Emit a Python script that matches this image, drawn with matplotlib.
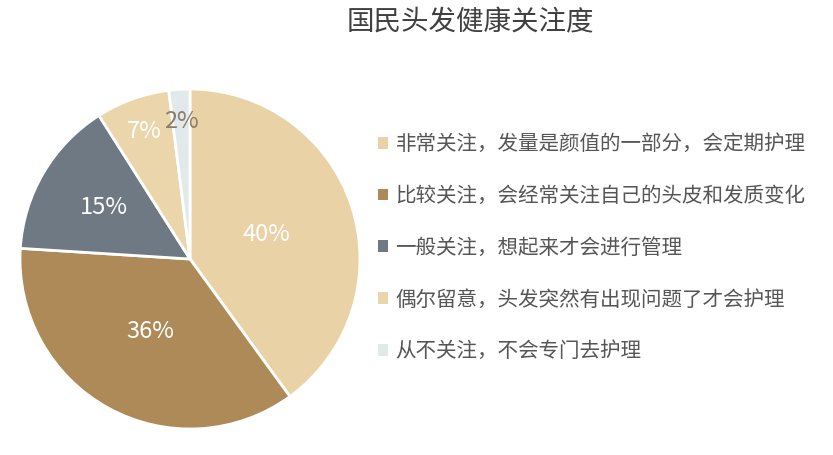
import numpy as np
import matplotlib.pyplot as plt
from matplotlib.patches import Patch

plt.rcParams['font.family'] = ['Noto Sans CJK SC', 'DejaVu Sans']

title = '国民头发健康关注度'
labels = ['非常关注，发量是颜值的一部分，会定期护理',
          '比较关注，会经常关注自己的头皮和发质变化',
          '一般关注，想起来才会进行管理',
          '偶尔留意，头发突然有出现问题了才会护理',
          '从不关注，不会专门去护理']
values = [40, 36, 15, 7, 2]
pct_text = ['40%', '36%', '15%', '7%', '2%']

colors = ['#E9D3A6', '#AD8A58', '#6F7984', '#EBD6AC', '#E1E9EA']
text_colors = ['white', 'white', 'white', 'white', '#8C7B68']
label_dist = [0.47, 0.49, 0.59, 0.8, 0.81]

W, H = 833, 455
fig = plt.figure(figsize=(W / 100, H / 100), dpi=100)

# pie centre (190, 259) px, radius 170 px
cx, cy, r = 190, 259, 170
ax = fig.add_axes([(cx - r) / W, (H - cy - r) / H, 2 * r / W, 2 * r / H])
wedges, _ = ax.pie(values, colors=colors, startangle=90, counterclock=False,
                   wedgeprops=dict(edgecolor='white', linewidth=2))
ax.set_xlim(-1, 1)
ax.set_ylim(-1, 1)
ax.set_aspect('equal')
ax.axis('off')

for w, t, c, d in zip(wedges, pct_text, text_colors, label_dist):
    ang = np.radians((w.theta1 + w.theta2) / 2)
    ax.text(d * np.cos(ang), d * np.sin(ang), t, color=c, fontsize=17,
            ha='center', va='center')

fig.text(470 / W, 1 - 23 / H, title, fontsize=19.8, color='#404040',
         ha='center', va='center')

handles = [Patch(facecolor=c, edgecolor='none') for c in colors]
fig.legend(handles, labels, loc='upper left',
           bbox_to_anchor=(378 / W, 1 - 133 / H), frameon=False,
           fontsize=14.8, labelcolor='#555555', handlelength=0.5,
           handleheight=0.5, handletextpad=0.35, labelspacing=1.45,
           borderpad=0, borderaxespad=0)

fig.savefig('out.png', dpi=100, facecolor='white')
